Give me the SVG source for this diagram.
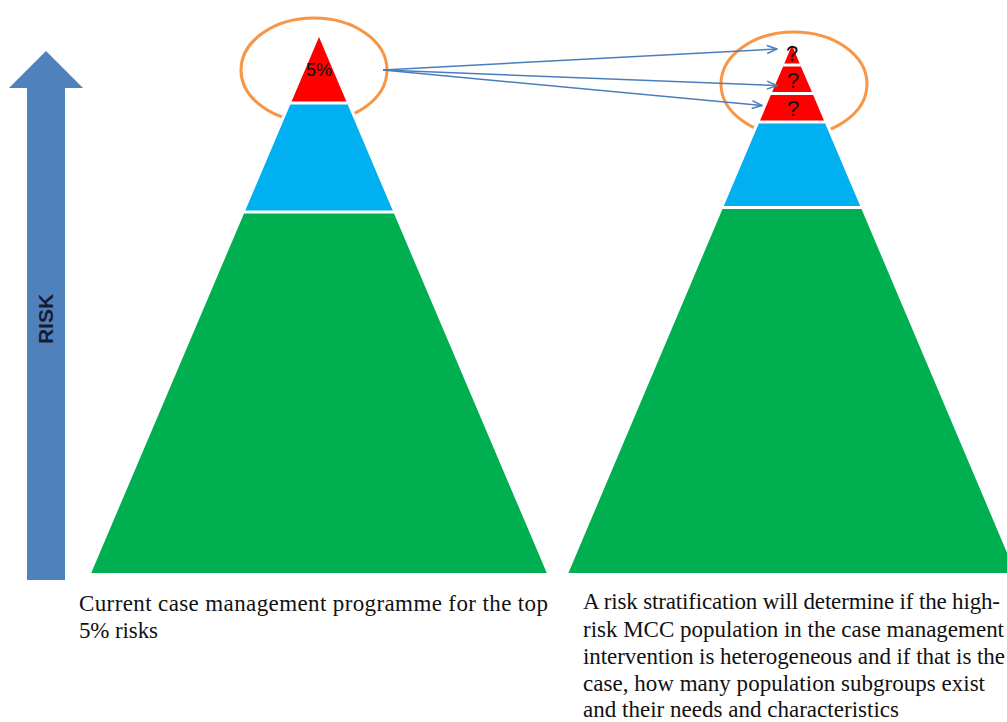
<svg xmlns="http://www.w3.org/2000/svg" width="1007" height="722" viewBox="0 0 1007 722">
  <defs>
    <style>
      .red { fill: #ff0000; }
      .blue { fill: #00b0f0; }
      .green { fill: #00b050; }
      .tier { stroke: #ffffff; stroke-width: 6; paint-order: stroke; stroke-linejoin: miter; }
      .ring { fill: none; stroke: #f79646; stroke-width: 3; }
      .link { fill: none; stroke: #4a7ebb; stroke-width: 1.5; marker-end: url(#open-head); }
      .mark { font-family: "Liberation Sans", Arial, sans-serif; fill: #111111; text-anchor: middle; }
      .caption { font-family: "Liberation Serif", "Times New Roman", serif; font-size: 23px; fill: #111111; }
    </style>
    <marker id="open-head" viewBox="0 0 12 10" refX="11" refY="5" markerWidth="12" markerHeight="10" markerUnits="userSpaceOnUse" orient="auto">
      <polyline points="1,1 11,5 1,9" fill="none" stroke="#4a7ebb" stroke-width="1.5"/>
    </marker>
  </defs>

  <rect width="1007" height="722" fill="#ffffff"/>

  <!-- vertical risk axis -->
  <g id="risk-axis">
    <polygon points="27,88 9,88 46,51 83,88 65,88 65,580 27,580" fill="#4f81bd"/>
    <text transform="translate(53,319) rotate(-90)" font-family="Liberation Sans, Arial, sans-serif" font-weight="bold" font-size="21" fill="#1b1b2f" text-anchor="middle">RISK</text>
  </g>

  <!-- current programme pyramid -->
  <g id="pyramid-current">
    <ellipse class="ring" cx="314" cy="70" rx="73" ry="52"/>
    <polygon class="red tier" points="319,37 290.3,104.5 347.7,104.5"/>
    <polygon class="blue tier" points="290.3,104.5 347.7,104.5 394,213.5 244,213.5"/>
    <polygon class="green tier" points="244,213.5 394,213.5 546.8,573 91.2,573"/>
    <text class="mark" x="319" y="76" font-size="18">5%</text>
  </g>

  <!-- stratified pyramid -->
  <g id="pyramid-stratified">
    <ellipse class="ring" cx="794" cy="84" rx="73" ry="52"/>
    <polygon class="red tier" points="792,45 783.1,66.5 800.9,66.5"/>
    <polygon class="red tier" points="783.1,66.5 800.9,66.5 813.2,95 770.8,95"/>
    <polygon class="red tier" points="770.8,95 813.2,95 825.2,123.5 758.8,123.5"/>
    <polygon class="blue tier" points="758.8,123.5 825.2,123.5 861.5,209 722.5,209"/>
    <polygon class="green tier" points="722.5,209 861.5,209 1015.6,573 568.4,573"/>
    <text class="mark" x="792" y="61" font-size="22">?</text>
    <text class="mark" x="793" y="88" font-size="22">?</text>
    <text class="mark" x="793" y="116" font-size="22">?</text>
  </g>

  <!-- links from the top tier to the subgroups -->
  <g id="connectors">
    <line class="link" x1="383" y1="70" x2="777" y2="49"/>
    <line class="link" x1="383" y1="70" x2="777" y2="85.5"/>
    <line class="link" x1="383" y1="70" x2="762" y2="105.5"/>
  </g>

  <!-- captions -->
  <g id="caption-current">
    <text class="caption" x="79" y="611" textLength="469" lengthAdjust="spacing">Current case management programme for the top</text>
    <text class="caption" x="79" y="638" textLength="79" lengthAdjust="spacing">5% risks</text>
  </g>
  <g id="caption-stratified">
    <text class="caption" x="583" y="609" textLength="417" lengthAdjust="spacing">A risk stratification will determine if the high-</text>
    <text class="caption" x="583" y="637" textLength="421" lengthAdjust="spacing">risk MCC population in the case management</text>
    <text class="caption" x="583" y="664" textLength="422" lengthAdjust="spacing">intervention is heterogeneous and if that is the</text>
    <text class="caption" x="583" y="691" textLength="402" lengthAdjust="spacing">case, how many population subgroups exist</text>
    <text class="caption" x="583" y="717" textLength="316" lengthAdjust="spacing">and their needs and characteristics</text>
  </g>
</svg>
